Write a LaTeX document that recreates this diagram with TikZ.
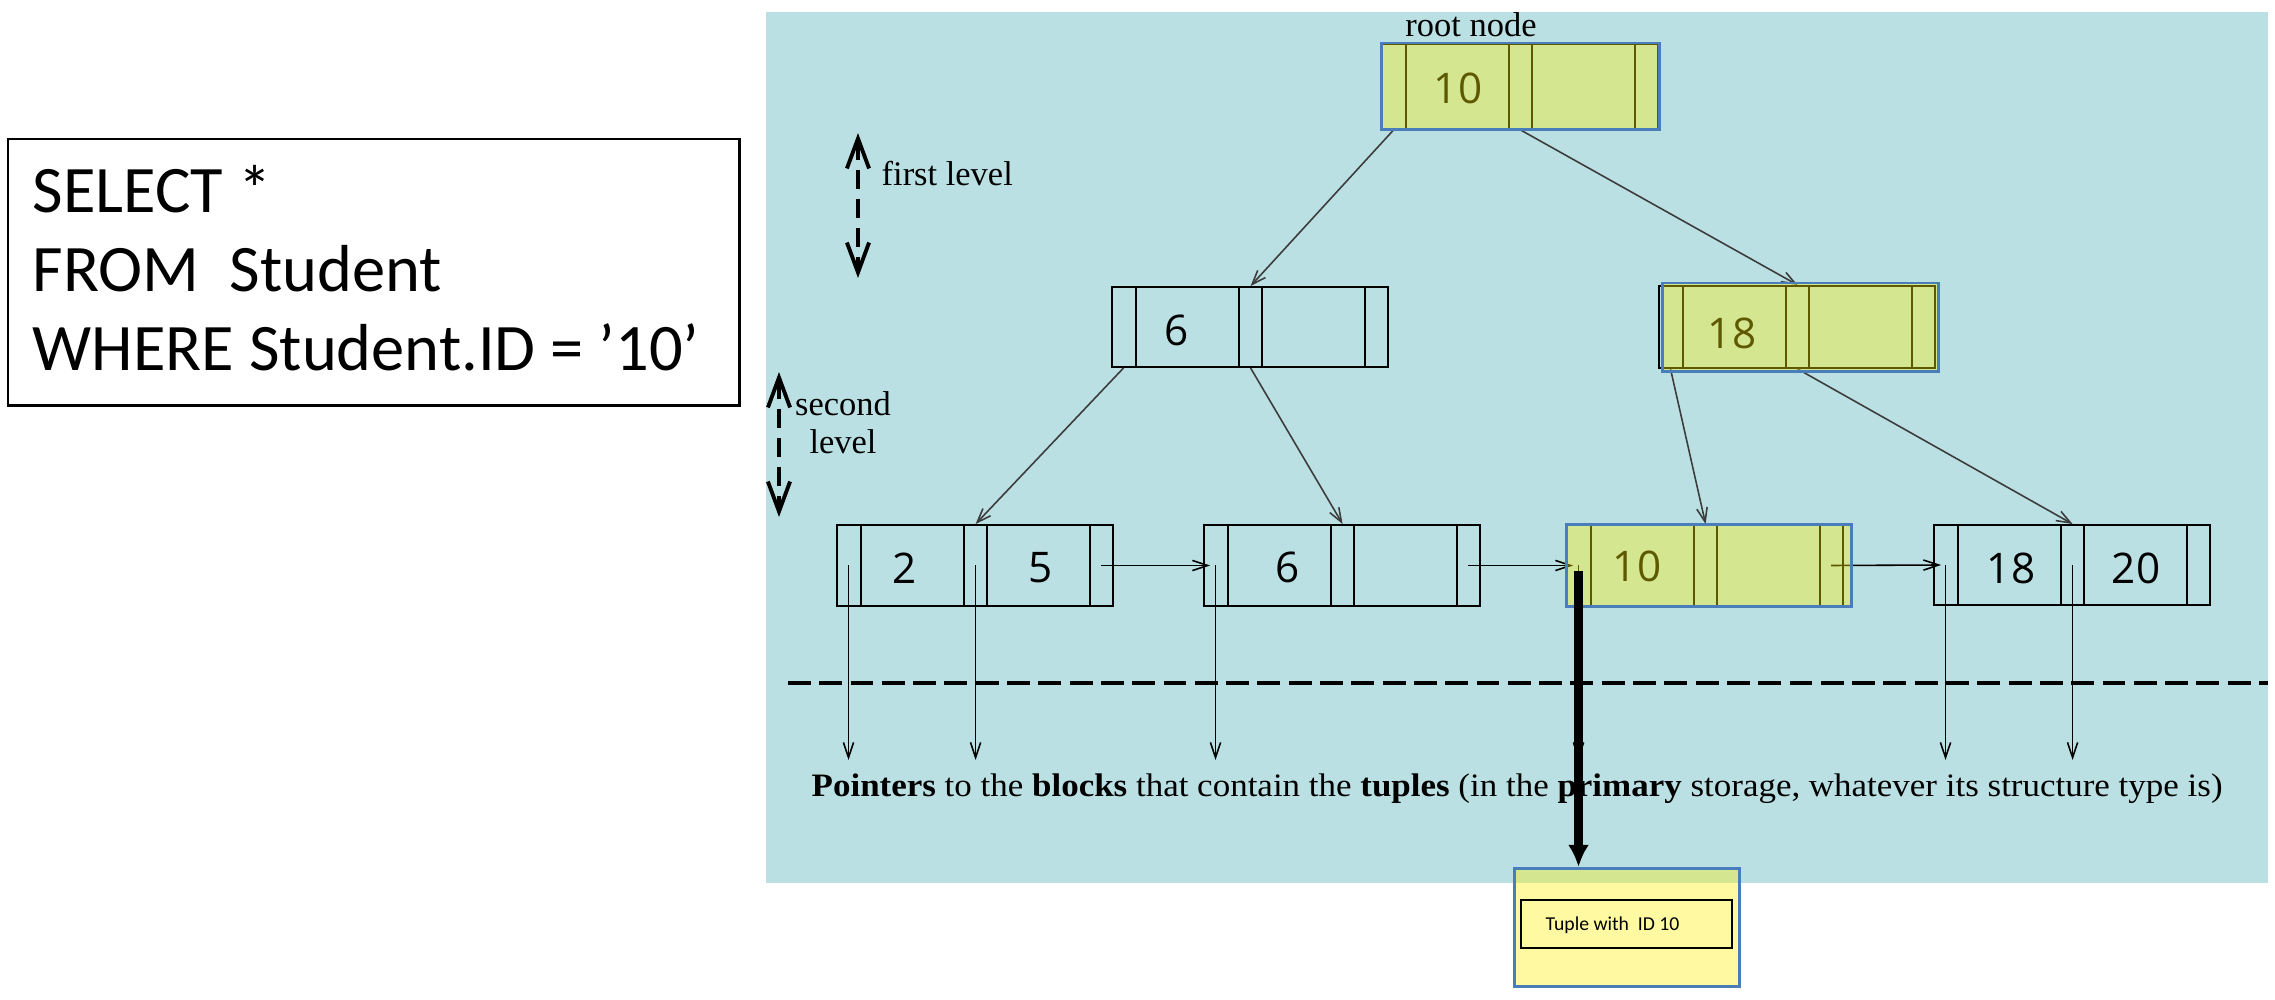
\documentclass[tikz,border=0pt]{standalone}
\usepackage{fontspec}
\usepackage{graphicx}
\setmainfont{Liberation Serif}
\newfontfamily\sqlfont{Carlito}
\newfontfamily\keyfont{Open Sans}
\usetikzlibrary{arrows.meta,calc}
\definecolor{bgblue}{RGB}{187,224,227}
\definecolor{hlblue}{RGB}{74,126,187}
\definecolor{treegray}{RGB}{60,60,60}
\tikzset{
  bbox/.style={draw=black, line width=0.55pt, inner sep=0pt, minimum width=2.76cm, anchor=north west},
  cellline/.style={draw=black, line width=0.55pt},
  keytext/.style={font=\keyfont\fontsize{12pt}{14pt}\selectfont, inner sep=0pt},
  treearrow/.style={draw=treegray, line width=0.45pt, -{Straight Barb[length=4pt,width=3pt]}},
  ptrarrow/.style={draw=black, line width=0.45pt, -{Straight Barb[length=4.3pt,width=2.9pt]}},
  hl/.style={fill=yellow, fill opacity=0.37, draw=hlblue, draw opacity=1, line width=0.85pt},
  lbl/.style={font=\fontsize{9.8pt}{10.8pt}\selectfont, inner sep=0pt},
  levelarrow/.style={line width=1.1pt, dash pattern=on 5.5pt off 2.8pt, {Straight Barb[length=8.5pt,width=6.3pt]}-{Straight Barb[length=8.5pt,width=6.3pt]}},
  sepline/.style={line width=1.28pt, dash pattern=on 6.5pt off 2.4pt},
}
\newcommand\btnode[4]{%
  \node[bbox, minimum height=#4] (#1) at (#2,#3) {};
  \foreach \cl in {0.25,1.28,1.51,2.54}
    \draw[cellline] ([xshift=\cl cm]#1.north west) -- ([xshift=\cl cm]#1.south west);
  \coordinate (#1-p0) at ([xshift=0.125cm]#1.west);
  \coordinate (#1-p1) at ([xshift=1.395cm]#1.west);
  \coordinate (#1-p2) at ([xshift=2.65cm]#1.west);
}
\begin{document}
\begin{tikzpicture}[x=0.01cm,y=-0.01cm]
\useasboundingbox (0,0) rectangle (2275,1000);
\fill[white] (0,0) rectangle (2275,1000);
\fill[bgblue] (766,12) rectangle (2268,883);

% SQL query
\node[draw, line width=0.7pt, minimum width=7.31cm, minimum height=2.66cm, anchor=north west, inner sep=0pt] (sql) at (7,138) {};
\node[font=\sqlfont\fontsize{18.9pt}{22.4pt}\selectfont, anchor=base west, align=left, inner sep=0pt] (sqltext) at (32,370) {SELECT *\\FROM\ \ Student\\WHERE Student.ID = ’10’};

% tree nodes
\btnode{root}{1381}{43}{0.85cm}
\btnode{na}{1111}{286}{0.80cm}
\btnode{nb}{1658}{285}{0.82cm}
\btnode{la}{836}{524}{0.81cm}
\btnode{lb}{1203}{524}{0.81cm}
\btnode{lc}{1566}{524}{0.81cm}
\btnode{ld}{1933}{524}{0.80cm}

\node[keytext] (kroot) at (1458,88) {10};
\node[keytext] (kna) at (1177,330) {6};
\node[keytext] (knb) at (1732,333) {18};
\node[keytext] (kla1) at (905,568) {2};
\node[keytext] (kla2) at (1041,568) {5};
\node[keytext] (klb) at (1288,567) {6};
\node[keytext] (klc) at (1637,566) {10};
\node[keytext] (kld1) at (2011,568) {18};
\node[keytext] (kld2) at (2136,568) {20};

% labels
\node[lbl, anchor=base] (rootlbl) at (1471,36) {root node};
\node[lbl, anchor=base west] (flbl) at (881,185) {first level};
\node[lbl, anchor=base, align=center] (slbl) at (843,453) {second\\level};

% level arrows
\coordinate (fa1) at (858,133);
\coordinate (fa2) at (858,278);
\draw[levelarrow] (fa1) -- (fa2);
\coordinate (sa1) at (779,372);
\coordinate (sa2) at (779,517);
\draw[levelarrow] (sa1) -- (sa2);

% tree connectors
\draw[treearrow] (root-p0 |- root.south) -- (na-p1 |- na.north);
\draw[treearrow] (root-p1 |- root.south) -- (nb-p1 |- nb.north);
\draw[treearrow] (na-p0 |- na.south) -- (la-p1 |- la.north);
\draw[treearrow] (na-p1 |- na.south) -- (lb-p1 |- lb.north);
\draw[treearrow] (nb-p0 |- nb.south) -- (lc-p1 |- lc.north);
\draw[treearrow] (nb-p1 |- nb.south) -- (ld-p1 |- ld.north);

% sibling pointers
\draw[ptrarrow] (la-p2) -- ([xshift=0.07cm]lb.west);
\draw[ptrarrow] (lb-p2) -- ([xshift=0.07cm]lc.west);
\draw[ptrarrow] (lc-p2) -- ([xshift=0.08cm]ld.west);

% separator
\coordinate (dl) at (788,683);
\coordinate (dr) at (2268,683);
\draw[sepline] (dl) -- (dr);

% data pointers
\coordinate (ptrend) at (0,760);
\foreach \p in {la-p0,la-p1,lb-p0,lc-p0,ld-p0,ld-p1}
  \draw[ptrarrow] (\p) -- (\p |- ptrend);

\node[font=\fontsize{9.3pt}{11pt}\selectfont, anchor=base west, inner sep=0pt] (ptrtext) at (811,796) {\resizebox{14.1cm}{\height}{\textbf{Pointers} to the \textbf{blocks} that contain the \textbf{tuples} (in the \textbf{primary} storage, whatever its structure type is)}};

% highlights
\draw[hl] (root.north west) rectangle (root.south east);
\draw[hl] ([xshift=0.04cm,yshift=0.02cm]nb.north west) rectangle ([xshift=0.02cm,yshift=-0.03cm]nb.south east);
\draw[hl] (lc.north west) rectangle ([xshift=0.07cm]lc.south east);

% tuple
\node[hl, minimum width=2.25cm, minimum height=1.18cm, anchor=north west, inner sep=0pt] (tuple) at (1513,867) {};
\node[draw=black, line width=0.6pt, minimum width=2.11cm, minimum height=0.48cm, anchor=north west, inner sep=0pt] (tin) at (1520,899) {};
\node[font=\sqlfont\fontsize{5.6pt}{6.7pt}\selectfont, anchor=base west, inner sep=0pt] (ttext) at (1545,930) {Tuple with\ \ ID 10};

\draw[line width=2.3pt, -{Latex[length=6.3pt,width=6pt]}] ([yshift=-0.06cm]lc-p0) -- (lc-p0 |- tuple.north);
\end{tikzpicture}
\end{document}
